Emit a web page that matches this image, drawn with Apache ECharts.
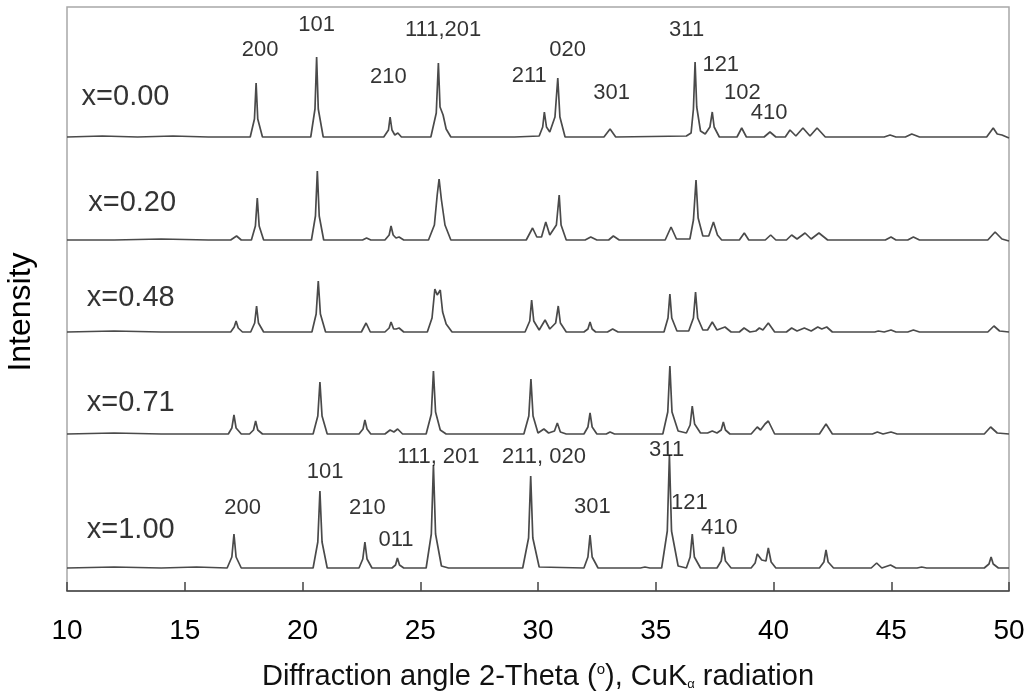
<!DOCTYPE html>
<html>
<head>
<meta charset="utf-8">
<script src="https://cdn.jsdelivr.net/npm/echarts@6/dist/echarts.min.js"></script>
<style>
html,body{margin:0;padding:0;background:#fff;}
#chart{width:1029px;height:698px;}
</style>
</head>
<body>
<div id="chart"></div>
<script>
// Composition labels
const sampleNames = ['x=0.00', 'x=0.20', 'x=0.48', 'x=0.71', 'x=1.00'];
// Vertical offset (baseline) of each pattern, arbitrary intensity units
const offsets = [454, 351, 259, 157, 23];

// Patterns: [2-theta, intensity above own baseline]
const pattern000 = [[10,0],[11.5,1],[13,0],[14.5,1],[16,0],[17.6,0],
 [17.78,0],[17.96,18],[18.03,54],[18.1,18],[18.3,0],[19.5,0],
 [20.35,0],[20.53,28],[20.60,80],[20.67,28],[20.88,0],
 [22,0],[23.45,0],[23.65,7],[23.72,20],[23.80,7],[23.92,2],[24.05,4],[24.2,0],
 [25.45,0],[25.68,24],[25.77,74],[25.84,30],[25.97,22],[26.1,8],[26.3,0],
 [29,0],[30.05,1],[30.2,10],[30.27,25],[30.36,10],[30.5,5],[30.72,20],[30.84,59],[30.93,20],[31.15,0],
 [32.8,0],[33.06,8],[33.3,0],
 [36.3,1],[36.5,4],[36.6,28],[36.67,75],[36.74,30],[36.9,6],[37.1,3],[37.3,10],[37.40,25],[37.48,10],[37.7,0],
 [38.45,0],[38.65,9],[38.85,0],
 [39.6,0],[39.85,5],[40.1,0],[40.5,0],[40.70,7],[40.95,1],[41.25,9],[41.55,1],[41.85,9],[42.2,0],
 [44.7,0],[44.95,2],[45.2,0],[45.6,0],[45.87,3],[46.2,0],
 [49.05,0],[49.33,9],[49.5,3],[49.7,2],[50,-1]];

const pattern020 = [[10,0],[12,0],[14,1],[16,0],[16.95,0],[17.2,4],[17.4,0],
 [17.83,0],[18.0,14],[18.08,42],[18.16,14],[18.35,0],
 [20.38,0],[20.55,24],[20.63,69],[20.71,24],[20.9,0],
 [22.55,0],[22.72,2],[22.9,0],
 [23.5,0],[23.68,5],[23.76,14],[23.85,5],[23.97,2],[24.1,3],[24.3,0],
 [25.35,0],[25.6,15],[25.72,45],[25.80,61],[25.9,40],[26.05,15],[26.3,0],
 [29.5,0],[29.77,12],[29.95,3],[30.15,3],[30.33,18],[30.5,5],[30.78,15],[30.90,45],[30.98,15],[31.2,0],
 [32.0,0],[32.24,3],[32.5,0],[33.0,0],[33.20,4],[33.45,0],
 [35.4,0],[35.65,13],[35.88,1],
 [36.45,1],[36.6,20],[36.71,60],[36.8,22],[37.0,4],[37.25,4],[37.45,18],[37.62,5],[37.8,0],
 [38.55,0],[38.76,7],[38.95,0],[39.65,0],[39.88,5],[40.1,0],
 [40.55,0],[40.77,5],[41.0,1],[41.34,7],[41.6,1],[41.93,7],[42.3,0],
 [44.75,0],[44.99,3],[45.2,0],[45.7,0],[45.94,3],[46.2,0],
 [49.1,0],[49.41,8],[49.7,1],[50,-1]];

const pattern048 = [[10,0],[12,1],[14,0],[16,0],[16.95,0],[17.1,5],[17.18,11],[17.27,4],[17.45,0],
 [17.8,0],[17.97,9],[18.05,26],[18.13,9],[18.35,0],
 [20.4,0],[20.58,18],[20.67,51],[20.76,18],[20.98,0],
 [22.5,0],[22.70,9],[22.88,0],
 [23.5,0],[23.68,4],[23.76,10],[23.87,3],[23.98,3],[24.1,4],[24.3,0],
 [25.3,0],[25.5,14],[25.62,43],[25.72,37],[25.85,42],[25.95,20],[26.1,8],[26.35,0],
 [29.45,0],[29.65,11],[29.73,32],[29.82,11],[30.05,2],[30.30,12],[30.5,3],[30.75,9],[30.86,26],[30.95,9],[31.2,0],
 [31.95,0],[32.12,3],[32.21,10],[32.3,3],[32.45,0],
 [32.95,0],[33.17,3],[33.4,0],
 [35.35,0],[35.52,14],[35.60,38],[35.68,14],[35.9,1],
 [36.4,1],[36.6,14],[36.69,40],[36.78,14],[37.0,2],[37.2,2],[37.40,10],[37.6,2],[37.94,5],[38.2,0],
 [38.55,0],[38.75,4],[39.0,0],[39.25,1],[39.40,4],[39.55,2],[39.78,9],[40.05,0],
 [40.55,0],[40.77,4],[41.0,1],[41.31,4],[41.6,1],[41.88,5],[42.05,3],[42.26,5],[42.5,0],
 [44.3,0],[44.45,1],[44.7,0],[44.99,2],[45.2,0],[45.7,0],[45.94,2],[46.2,0],
 [49.1,0],[49.36,6],[49.6,1],[50,0]];

const pattern071 = [[10,0],[12,1],[14,0],[16,0],[16.85,0],[17.0,6],[17.09,19],[17.18,6],[17.4,0],
 [17.75,0],[17.92,4],[18.01,13],[18.1,4],[18.3,0],
 [20.45,0],[20.65,18],[20.74,52],[20.83,18],[21.05,0],
 [22.4,0],[22.57,5],[22.65,14],[22.74,5],[22.9,0],
 [23.5,0],[23.72,4],[23.88,2],[24.04,5],[24.25,0],
 [25.25,0],[25.47,20],[25.56,63],[25.65,22],[25.85,4],[26.1,0],
 [29.4,0],[29.61,18],[29.70,55],[29.79,18],[30.0,1],[30.25,5],[30.45,1],[30.7,3],[30.82,11],[30.95,2],[31.2,0],
 [31.95,0],[32.12,7],[32.21,21],[32.3,7],[32.5,0],
 [32.9,0],[33.06,2],[33.25,0],
 [35.3,0],[35.51,22],[35.60,68],[35.69,22],[35.95,3],
 [36.3,1],[36.46,9],[36.55,28],[36.65,10],[36.9,1],[37.2,1],[37.40,3],[37.6,1],[37.78,4],[37.87,12],[37.96,4],[38.15,0],
 [39.05,0],[39.31,7],[39.45,4],[39.64,10],[39.78,13],[40.05,0],
 [41.95,0],[42.23,10],[42.5,0],
 [44.2,0],[44.41,2],[44.65,0],[44.99,2],[45.25,0],
 [48.95,0],[49.22,7],[49.5,1],[50,0]];

const pattern100 = [[10,0],[12,1],[14,0],[15.5,1],[16.8,0],[17.0,11],[17.09,34],[17.18,11],[17.4,0],
 [19,0],[20.45,0],[20.65,26],[20.74,77],[20.83,26],[21.05,0],
 [22.4,0],[22.56,9],[22.65,26],[22.74,9],[22.95,0],
 [23.8,0],[23.95,3],[24.03,10],[24.12,3],[24.3,0],
 [25.25,0],[25.47,34],[25.56,103],[25.65,34],[25.9,2],[26.2,0],
 [29.35,0],[29.6,30],[29.69,92],[29.78,30],[30.05,1],
 [31.95,0],[32.12,11],[32.21,33],[32.3,11],[32.55,0],
 [34.35,0],[34.54,1],[34.75,0],
 [35.25,0],[35.49,37],[35.58,113],[35.67,37],[35.95,2],
 [36.3,0],[36.46,11],[36.55,34],[36.64,11],[36.9,0],
 [37.6,0],[37.78,7],[37.87,21],[37.96,7],[38.2,0],
 [39.05,0],[39.22,5],[39.31,14],[39.5,8],[39.68,7],[39.78,20],[39.9,6],[40.1,0],
 [41.95,0],[42.14,6],[42.23,18],[42.32,6],[42.55,0],
 [44.15,0],[44.38,5],[44.6,0],[44.97,3],[45.2,0],
 [46.1,0],[46.29,1],[46.5,0],
 [48.95,0],[49.15,4],[49.24,11],[49.33,4],[49.55,0],[50,0]];

const patterns = [pattern000, pattern020, pattern048, pattern071, pattern100];

// Peak (hkl) labels: [text, 2-theta, intensity position]
const peakLabelsTop = [['200',18.20,541],['101',20.60,566],['210',23.65,514],['111,201',25.97,561],
 ['211',29.63,515],['020',31.26,541],['301',33.13,498],['311',36.31,561],['121',37.76,526],
 ['102',38.68,498],['410',39.81,478]];
const peakLabelsBottom = [['200',17.46,83],['101',20.96,119],['210',22.75,83],['011',23.97,51],
 ['111, 201',25.77,134],['211, 020',30.25,134],['301',32.31,84],['311',35.46,141],
 ['121',36.43,88],['410',37.70,63]];
// Sample label anchors: [2-theta, intensity position]
const sampleLabelPos = [[10.62,494],[10.90,388],[10.84,293],[10.84,188],[10.84,61]];

// X axis ticks
const xMin = 10, xMax = 50, xStep = 5;

const FONT = 'Arial, "Liberation Sans", sans-serif';

const series = [];
patterns.forEach((p, i) => {
  series.push({
    type: 'line',
    data: p.map(d => [d[0], d[1] + offsets[i]]),
    showSymbol: false,
    symbol: 'none',
    lineStyle: { color: '#4a4a4a', width: 1.7 },
    silent: true,
    z: 2
  });
});
series.push({
  type: 'scatter',
  symbolSize: 0,
  data: peakLabelsTop.concat(peakLabelsBottom).map(d => ({ name: d[0], value: [d[1], d[2]] })),
  label: { show: true, position: 'inside', formatter: '{b}', color: '#000', fontSize: 22, fontFamily: FONT },
  silent: true,
  z: 5
});
series.push({
  type: 'scatter',
  symbolSize: 0,
  data: sampleNames.map((n, i) => ({ name: n, value: sampleLabelPos[i] })),
  label: { show: true, position: 'right', distance: 0, formatter: '{b}', color: '#000', fontSize: 29, fontFamily: FONT },
  silent: true,
  z: 5
});

const chart = echarts.init(document.getElementById('chart'), null, { renderer: 'canvas' });
chart.setOption({
  animation: false,
  backgroundColor: '#fff',
  grid: { left: 67, right: 20, top: 7, bottom: 107, show: true, borderColor: '#a8a8a8', borderWidth: 1.5 },
  xAxis: {
    type: 'value', min: xMin, max: xMax, interval: xStep,
    axisLine: { show: true, lineStyle: { color: '#444', width: 1.5 } },
    axisTick: { show: true, inside: true, length: 9, lineStyle: { color: '#444', width: 1.5 } },
    axisLabel: { fontSize: 28, color: '#000', margin: 26, fontFamily: FONT,
      showMinLabel: true, showMaxLabel: true },
    splitLine: { show: false },
    name: 'Diffraction angle 2-Theta ({sup|o}), CuK{sub|α} radiation',
    nameLocation: 'middle',
    nameGap: 71,
    nameTextStyle: {
      fontSize: 29, color: '#111', fontFamily: FONT,
      rich: {
        sup: { fontSize: 15, verticalAlign: 'top', color: '#111', fontFamily: FONT, padding: [0, 0, 10, 0] },
        sub: { fontSize: 13, verticalAlign: 'bottom', color: '#111', fontFamily: FONT, padding: [12, 0, 0, 0] }
      }
    }
  },
  yAxis: {
    type: 'value', min: 0, max: 584,
    axisLine: { show: false },
    axisTick: { show: false },
    axisLabel: { show: false },
    splitLine: { show: false }
  },
  graphic: [{
    type: 'text',
    x: 21, y: 312,
    rotation: Math.PI / 2,
    style: { text: 'Intensity', fontSize: 32, fill: '#000', fontFamily: FONT, align: 'center', verticalAlign: 'middle' }
  }],
  series: series
});
</script>
</body>
</html>
